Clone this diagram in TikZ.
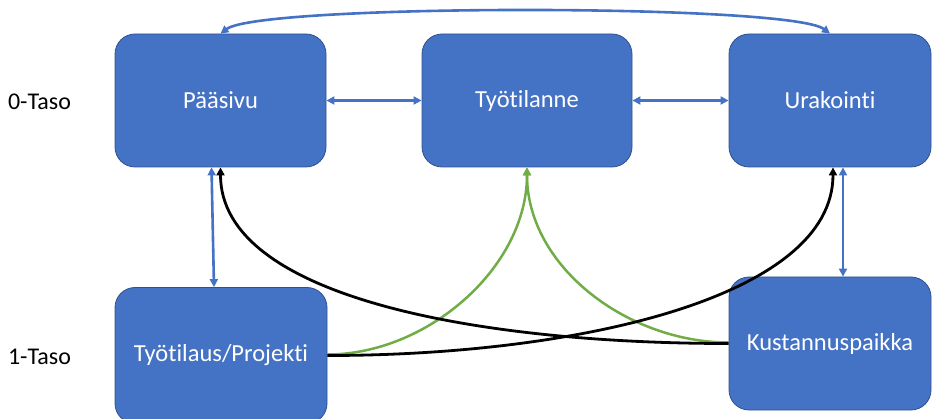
\documentclass[tikz,border=0pt]{standalone}
\usepackage{fontspec}
\setmainfont{Carlito}[Ligatures=NoCommon]
\usetikzlibrary{arrows.meta}

\definecolor{boxblue}{HTML}{4472C4}
\definecolor{boxedge}{HTML}{2F528F}
\definecolor{linkgreen}{HTML}{70AD47}

\tikzset{
  page/.style={rounded corners=20pt, fill=boxblue, draw=boxedge, line width=0.8pt,
    text=white, minimum width=211pt, minimum height=133pt, inner sep=0pt,
    font=\fontsize{24.5}{28}\selectfont},
  tasolabel/.style={font=\fontsize{24}{28}\selectfont},
  bluelink/.style={draw=boxblue, line width=2.6pt, {Triangle[length=8pt,width=8pt]}-{Triangle[length=8pt,width=8pt]}},
  blacklink/.style={draw=black, line width=2.8pt, -{Triangle[length=8pt,width=8pt]}},
  greenlink/.style={draw=linkgreen, line width=2.5pt, -{Triangle[length=8pt,width=8pt]}}
}

\begin{document}
\begin{tikzpicture}[x=1pt, y=1pt]
    \useasboundingbox (0,0) rectangle (932,418);

    % Draw the pages
    \node[page] (paasivu) at (220.5,317.5) {Pääsivu};
    \node[page, minimum width=210pt] (tilanne) at (527,317.5) {Työtilanne};
    \node[page, minimum width=202pt] (urakointi) at (830,317.5) {Urakointi};
    \node[page, minimum width=212pt, minimum height=136pt] (tilaus) at (221,62.5) {Työtilaus/Projekti};
    \node[page, minimum width=202pt] (kustannus) at (830,74.5) {Kustannuspaikka};

    % Add level labels
    \node[tasolabel] (taso0) at (39.5,316) {0-Taso};
    \node[tasolabel] (taso1) at (39.5,61) {1-Taso};

    % Links on level 0
    \draw[bluelink] (paasivu.east) -- (tilanne.west);
    \draw[bluelink] (tilanne.east) -- (urakointi.west);
    \draw[bluelink] (paasivu.north) .. controls +(40,30) and +(-40,30) .. (urakointi.north);

    % Links between the levels
    \draw[bluelink] ([xshift=-9pt]paasivu.south) -- ([xshift=-7pt]tilaus.north);
    \draw[bluelink] ([xshift=13pt]urakointi.south) -- ([xshift=13pt]kustannus.north);

    % Draw the curved links
    \draw[greenlink] ([yshift=1pt]tilaus.east) .. controls +(100,0) and +(0,-100) .. (tilanne.south);
    \draw[greenlink] ([yshift=1pt]kustannus.west) .. controls +(-100,0) and +(0,-100) .. (tilanne.south);
    \draw[blacklink] (tilaus.east) .. controls +(250,0) and +(0,-130) .. ([xshift=3pt]urakointi.south);
    \draw[blacklink] (kustannus.west) .. controls +(-250,0) and +(0,-130) .. (paasivu.south);
\end{tikzpicture}
\end{document}
